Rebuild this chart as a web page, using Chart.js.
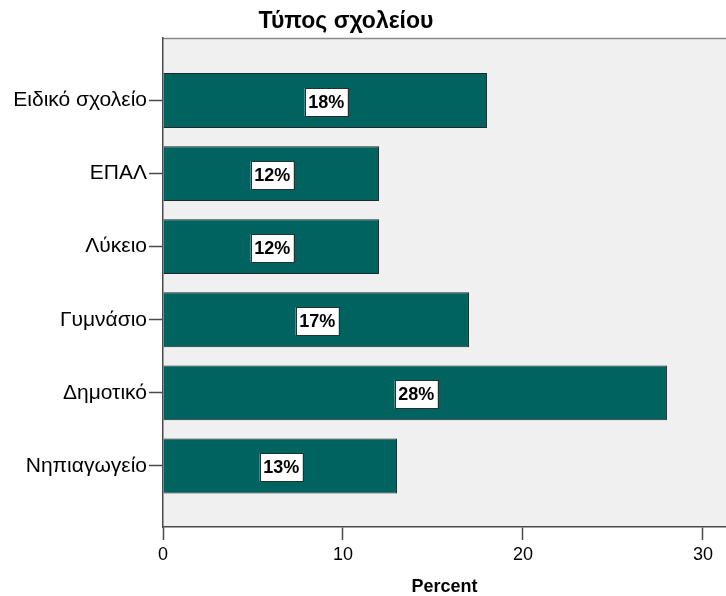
<!DOCTYPE html>
<html>
<head>
<meta charset="utf-8">
<script src="https://cdn.jsdelivr.net/npm/chart.js@4/dist/chart.umd.min.js"></script>
<style>
  html, body { margin: 0; padding: 0; background: #fff; }
  canvas { display: block; }
</style>
</head>
<body>
<canvas id="myChart" width="726" height="596"></canvas>
<script>
var chartTitle = 'Τύπος σχολείου';
var categories = ['Ειδικό σχολείο', 'ΕΠΑΛ', 'Λύκειο', 'Γυμνάσιο', 'Δημοτικό', 'Νηπιαγωγείο'];
var percents = [18.0, 12.0, 12.0, 17.0, 28.0, 13.0];
var barLabels = ['18%', '12%', '12%', '17%', '28%', '13%'];
var xTicks = [0, 10, 20, 30];

var fontFamily = '"Liberation Sans", Arial, sans-serif';

// grey plot background + top border line
var plotBackground = {
    id: 'plotBackground',
    beforeDraw: function (chart) {
        var ctx = chart.ctx, a = chart.chartArea;
        ctx.save();
        ctx.fillStyle = '#f0f0f0';
        ctx.fillRect(a.left, a.top, a.right - a.left, a.bottom - a.top);
        ctx.strokeStyle = '#8c8c8c';
        ctx.lineWidth = 1.5;
        ctx.beginPath();
        ctx.moveTo(a.left, a.top + 0.5);
        ctx.lineTo(a.right, a.top + 0.5);
        ctx.stroke();
        ctx.restore();
    }
};

// title above the plot
var topTitle = {
    id: 'topTitle',
    afterDraw: function (chart) {
        var ctx = chart.ctx;
        ctx.save();
        ctx.font = 'bold 23px ' + fontFamily;
        ctx.fillStyle = '#000';
        ctx.textAlign = 'center';
        ctx.textBaseline = 'middle';
        ctx.fillText(chartTitle, 346, 22);
        ctx.restore();
    }
};

// white value boxes in the middle of each bar
var valueBoxes = {
    id: 'valueBoxes',
    afterDatasetsDraw: function (chart) {
        var ctx = chart.ctx;
        var meta = chart.getDatasetMeta(0);
        ctx.save();
        ctx.font = 'bold 18px ' + fontFamily;
        ctx.textAlign = 'center';
        ctx.textBaseline = 'middle';
        meta.data.forEach(function (bar, i) {
            var cx = (bar.x + bar.base) / 2 + 1;
            var cy = bar.y + 1.5;
            var w = ctx.measureText(barLabels[i]).width + 7;
            var h = 28;
            ctx.fillStyle = '#ffffff';
            ctx.fillRect(cx - w / 2, cy - h / 2, w, h);
            ctx.strokeStyle = '#1f3333';
            ctx.lineWidth = 1;
            ctx.strokeRect(Math.round(cx - w / 2) + 0.5, Math.round(cy - h / 2) + 0.5, Math.round(w), h);
            ctx.fillStyle = '#000';
            ctx.fillText(barLabels[i], cx, cy + 1);
        });
        ctx.restore();
    }
};

var chartArea = document.getElementById('myChart').getContext('2d');

var myChart = new Chart(chartArea, {
    type: 'bar',
    data: {
        datasets: [{
            label: 'Percent',
            data: percents.map(function (v, i) { return { x: v, y: i }; }),
            backgroundColor: '#00635f',
            borderColor: '#1c2a2a',
            borderWidth: 1,
            borderSkipped: 'start',
            barPercentage: 0.75,
            categoryPercentage: 1
        }]
    },
    options: {
        indexAxis: 'y',
        responsive: false,
        animation: false,
        devicePixelRatio: 1,
        layout: { padding: { top: 38, right: 0, left: 0, bottom: 0 } },
        plugins: {
            legend: { display: false },
            tooltip: { enabled: false },
            title: { display: false }
        },
        scales: {
            x: {
                type: 'linear',
                position: 'bottom',
                min: 0,
                max: 31.28,
                afterBuildTicks: function (scale) {
                    scale.ticks = xTicks.map(function (v) { return { value: v }; });
                },
                afterFit: function (scale) { scale.height = 69; },
                ticks: {
                    font: { family: fontFamily, size: 18 },
                    color: '#000',
                    padding: 4,
                    maxRotation: 0
                },
                grid: {
                    drawOnChartArea: false,
                    tickLength: 13,
                    color: '#4a4a4a',
                    tickWidth: 1.5
                },
                border: { color: '#4a4a4a', width: 1.5 },
                title: {
                    display: true,
                    text: 'Percent',
                    font: { family: fontFamily, size: 18, weight: 'bold', lineHeight: 1 },
                    color: '#000',
                    padding: { top: 0, bottom: 0 }
                }
            },
            y: {
                type: 'linear',
                reverse: true,
                offset: false,
                min: -0.855,
                max: 5.835,
                afterBuildTicks: function (scale) {
                    scale.ticks = categories.map(function (c, i) { return { value: i }; });
                },
                afterFit: function (scale) { scale.width = 163; },
                ticks: {
                    font: { family: fontFamily, size: 21 },
                    color: '#000',
                    padding: 2,
                    callback: function (value) { return categories[value]; }
                },
                grid: {
                    offset: false,
                    drawOnChartArea: false,
                    tickLength: 14,
                    color: '#4a4a4a',
                    tickWidth: 1.5
                },
                border: { color: '#4a4a4a', width: 1.5 }
            }
        }
    },
    plugins: [plotBackground, topTitle, valueBoxes]
});
</script>
</body>
</html>
